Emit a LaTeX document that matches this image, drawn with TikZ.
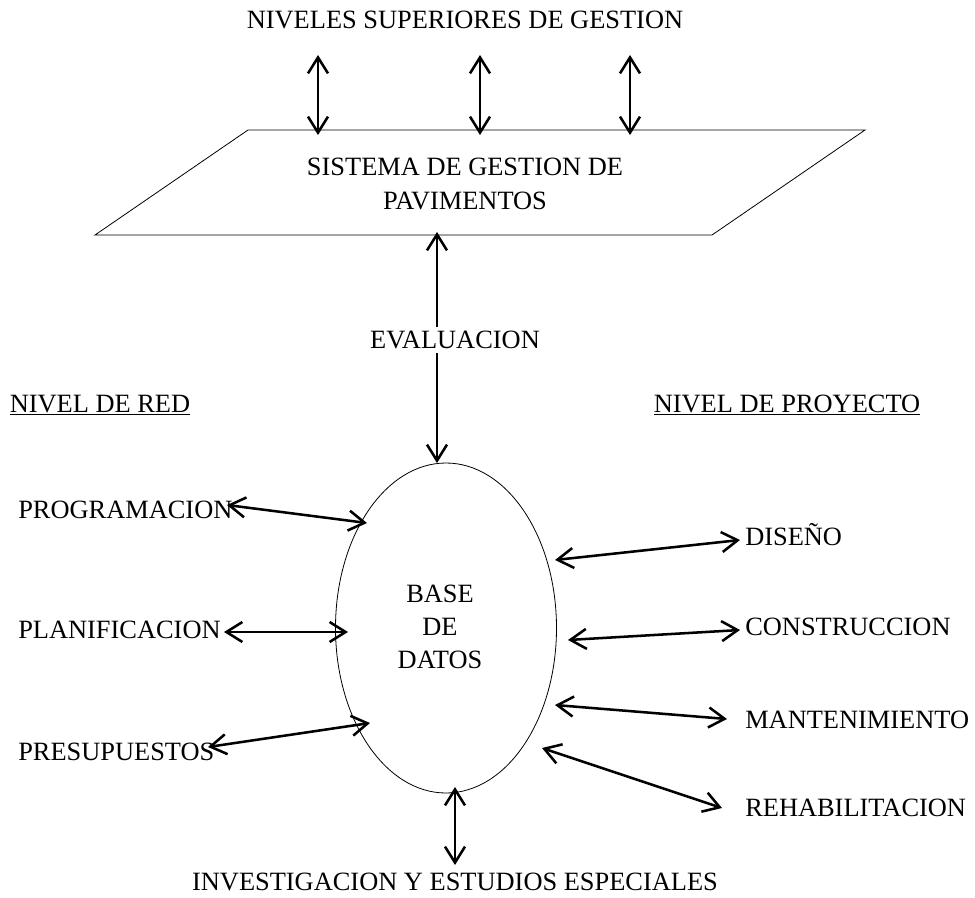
\documentclass[tikz,border=0pt]{standalone}
\usepackage{fontspec}
\setmainfont{Liberation Serif}
\usetikzlibrary{arrows.meta,shapes.geometric}
\begin{document}
\begin{tikzpicture}[x=0.75pt, y=-0.75pt,
		txt/.style = {inner sep=0pt, font=\fontsize{19.8}{25}\selectfont, align=center},
		flecha/.style = {line width=1.9pt, {Straight Barb[length=12pt,width=15pt]}-{Straight Barb[length=12pt,width=15pt]}},
		fina/.style = {line width=0.6pt}]
		\useasboundingbox (0,0) rectangle (975,897);
		% plataforma del sistema
		\draw[fina] (248,130) -- (865,130) -- (712,235) -- (95,235) -- cycle;
		\node[txt] (niveles) at (465,20) {NIVELES SUPERIORES DE GESTION};
		\node[txt] (sistema) at (465,184) {SISTEMA DE GESTION DE\\PAVIMENTOS};
		\foreach \x [count=\i] in {318,480,630} {
			\coordinate (sa\i) at (\x,55);
			\coordinate (sb\i) at (\x,135);
			\draw[flecha] (sa\i) -- (sb\i);
		}
		% base de datos
		\node[fina, draw, ellipse, minimum width=165.75pt, minimum height=247.5pt, inner sep=0pt] (bd) at (446,628) {};
		\node[txt] (datos) at (440,627) {BASE\\DE\\DATOS};
		\coordinate (e1) at (437,232);
		\coordinate (e2) at (437,463);
		\draw[flecha] (e1) -- (e2);
		\node[txt, fill=white, inner ysep=3pt, inner xsep=1pt] (eval) at (455,340) {EVALUACION};
		\node[txt] (red) at (100,405) {\underline{NIVEL DE RED}};
		\node[txt] (proy) at (787,405) {\underline{NIVEL DE PROYECTO}};
		% nivel de red
		\node[txt, anchor=west] (prog) at (18,510) {PROGRAMACION};
		\node[txt, anchor=west] (plan) at (18,630) {PLANIFICACION};
		\node[txt, anchor=west] (pres) at (18,752) {PRESUPUESTOS};
		\draw[flecha] (227,505) coordinate (p1) -- (367,523) coordinate (p2);
		\draw[flecha] (224,632) coordinate (l1) -- (348,632) coordinate (l2);
		\draw[flecha] (208,747) coordinate (r1) -- (370,723) coordinate (r2);
		% nivel de proyecto
		\node[txt, anchor=west] (dis) at (745,535) {DISEÑO};
		\node[txt, anchor=west] (con) at (745,627) {CONSTRUCCION};
		\node[txt, anchor=west] (man) at (745,720) {MANTENIMIENTO};
		\node[txt, anchor=west] (reh) at (745,808) {REHABILITACION};
		\draw[flecha] (555,560) coordinate (d1) -- (740,540) coordinate (d2);
		\draw[flecha] (568,640) coordinate (c1) -- (740,630) coordinate (c2);
		\draw[flecha] (555,705) coordinate (m1) -- (727,719) coordinate (m2);
		\draw[flecha] (542,748) coordinate (h1) -- (722,808) coordinate (h2);
		% investigacion
		\coordinate (i1) at (455,787);
		\coordinate (i2) at (455,865);
		\draw[flecha] (i1) -- (i2);
		\node[txt] (inv) at (455,882) {INVESTIGACION Y ESTUDIOS ESPECIALES};
	\end{tikzpicture}
\end{document}
